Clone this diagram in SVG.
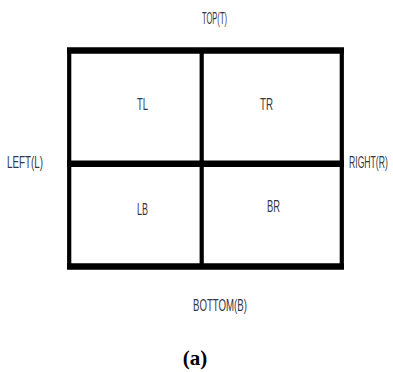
<svg xmlns="http://www.w3.org/2000/svg" width="393" height="372" viewBox="0 0 393 372">
<style>
.lbl{font-family:"Liberation Sans","DejaVu Sans",sans-serif;font-size:16px;fill:#363644}
.cap{font-family:"Liberation Serif","DejaVu Serif",serif;font-size:21px;font-weight:bold;fill:#000}
.thick{stroke:#000;stroke-width:6.5;fill:none}
.thin{stroke:#000;stroke-width:4.2;fill:none}
</style>
<rect width="393" height="372" fill="#fff"/>
<g id="grid">
<line class="thick" x1="67" y1="50.5" x2="344" y2="50.5"/>
<line class="thick" x1="67" y1="266.5" x2="344" y2="266.5"/>
<line class="thin" x1="69.2" y1="48" x2="69.2" y2="269"/>
<line class="thin" x1="341.8" y1="48" x2="341.8" y2="269"/>
<line class="thin" x1="201.7" y1="48" x2="201.7" y2="269"/>
<line class="thick" x1="67" y1="163.8" x2="344" y2="163.8"/>
</g>
<g id="TL"><text class="lbl" x="137" y="110" textLength="11" lengthAdjust="spacingAndGlyphs">TL</text></g>
<g id="TR"><text class="lbl" x="260" y="110" textLength="13" lengthAdjust="spacingAndGlyphs">TR</text></g>
<g id="LB"><text class="lbl" x="137" y="215" textLength="11" lengthAdjust="spacingAndGlyphs">LB</text></g>
<g id="BR"><text class="lbl" x="267" y="212" textLength="13" lengthAdjust="spacingAndGlyphs">BR</text></g>
<g id="top"><text class="lbl" x="202" y="24" textLength="25" lengthAdjust="spacingAndGlyphs">TOP(T)</text></g>
<g id="left"><text class="lbl" x="7" y="168" textLength="36" lengthAdjust="spacingAndGlyphs">LEFT(L)</text></g>
<g id="right"><text class="lbl" transform="translate(349,168) scale(0.54,1)">RIGHT(R)</text></g>
<g id="bottom"><text class="lbl" x="193" y="311" textLength="54" lengthAdjust="spacingAndGlyphs">BOTTOM(B)</text></g>
<g id="caption"><text class="cap" x="195" y="365" text-anchor="middle">(a)</text></g>
<g id="connectors"></g>
</svg>
